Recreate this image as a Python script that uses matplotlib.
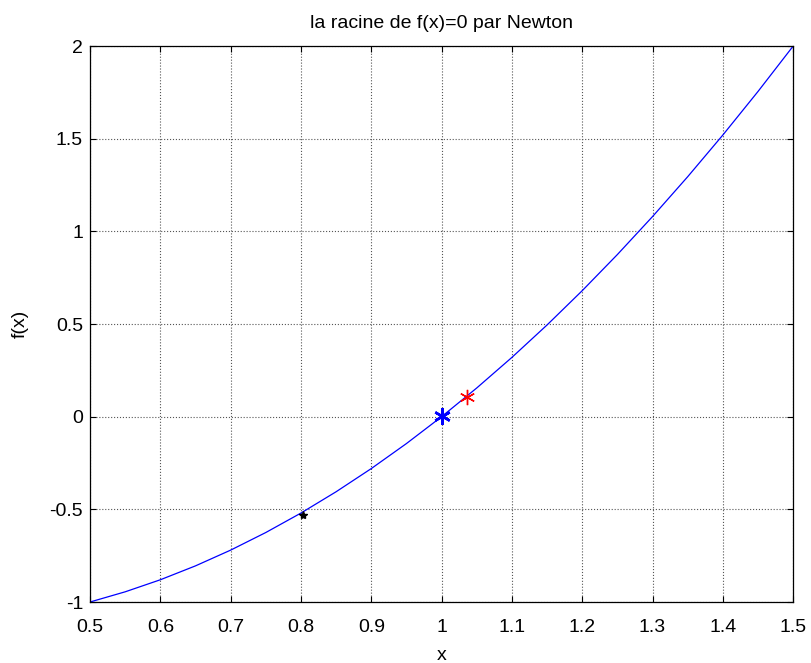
import matplotlib
matplotlib.use("Agg")
import matplotlib.pyplot as plt

plt.rcParams['font.family'] = ['Liberation Sans', 'DejaVu Sans']

# curve
x_vals = [0.5, 0.55, 0.6, 0.65, 0.7, 0.75, 0.8, 0.85, 0.9, 0.95, 1.0,
          1.05, 1.1, 1.15, 1.2, 1.25, 1.3, 1.35, 1.4, 1.45, 1.5]
f_vals = [-1.0, -0.945, -0.88, -0.805, -0.72, -0.625, -0.52, -0.405, -0.28, -0.145, 0.0,
          0.155, 0.32, 0.495, 0.68, 0.875, 1.08, 1.295, 1.52, 1.755, 2.0]

# points marked on the curve
start_pt = (0.803, -0.53)
iter_pt = (1.036, 0.106)
root_pt = (1.0, 0.005)

xticks = [0.5, 0.6, 0.7, 0.8, 0.9, 1, 1.1, 1.2, 1.3, 1.4, 1.5]
xtick_labels = ['0.5', '0.6', '0.7', '0.8', '0.9', '1', '1.1', '1.2', '1.3', '1.4', '1.5']
yticks = [-1, -0.5, 0, 0.5, 1, 1.5, 2]
ytick_labels = ['-1', '-0.5', '0', '0.5', '1', '1.5', '2']

fig = plt.figure(figsize=(8.11, 6.63), dpi=100)
ax = fig.add_axes([0.111, 0.092, 0.867, 0.8385])

ax.plot(x_vals, f_vals, color='blue', linewidth=0.9)
ax.plot(*start_pt, marker='*', color='black', markersize=6, linestyle='none')
ax.plot(*iter_pt, marker=(6, 2, 0), color='red', markersize=11, linestyle='none', markeredgewidth=1)
ax.plot(*root_pt, marker=(6, 2, 0), color='blue', markersize=12, linestyle='none', markeredgewidth=1.8)

ax.set_xlim(0.5, 1.5)
ax.set_ylim(-1, 2)
ax.set_xticks(xticks)
ax.set_xticklabels(xtick_labels)
ax.set_yticks(yticks)
ax.set_yticklabels(ytick_labels)
ax.tick_params(direction='in', top=True, right=True, labelsize=14, length=4)
ax.tick_params(axis='x', pad=12)
ax.tick_params(axis='y', pad=5)
ax.grid(True, linestyle=':', color='#555555', linewidth=0.8)
for s in ax.spines.values():
    s.set_linewidth(0.9)

ax.set_title('la racine de f(x)=0 par Newton', fontsize=14, pad=13)
ax.set_xlabel('x', fontsize=14, labelpad=8)
ax.set_ylabel('f(x)', fontsize=14, labelpad=15)

fig.savefig('out.png', dpi=100)
